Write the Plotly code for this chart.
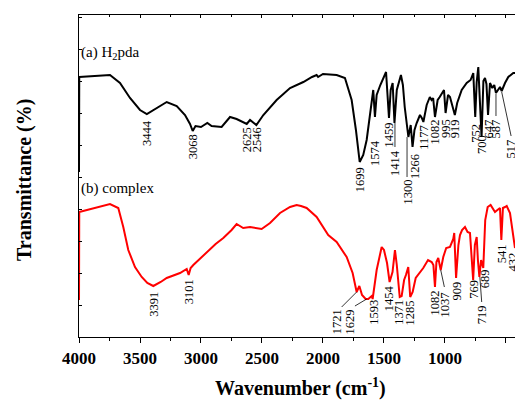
import plotly.graph_objects as go

# ---- data: (a) H2pda spectrum, wavenumber (cm-1) and transmittance (arb. units)
wn_a = [4000, 3998, 3746, 3664, 3582, 3500, 3444, 3363, 3281, 3199, 3131, 3090, 3068, 3045, 3000,
        2948, 2913, 2831, 2762, 2708, 2660, 2625, 2598, 2546, 2489, 2380, 2270, 2161, 2090, 2052,
        2040, 2000, 1888, 1820, 1765, 1730, 1699, 1670, 1642, 1600, 1588, 1574, 1560, 1530, 1483,
        1459, 1445, 1429, 1414, 1395, 1361, 1345, 1330, 1300, 1290, 1281, 1266, 1250, 1232, 1205,
        1190, 1177, 1150, 1124, 1110, 1097, 1082, 1060, 1043, 1008, 995, 975, 959, 919, 900,
        863, 822, 790, 768, 752, 740, 727, 700, 685, 672, 660, 647, 631, 612, 596,
        582, 565, 549, 535, 508, 481, 440, 426]
t_a = [165, 260, 262, 254, 239, 227, 223, 229, 235, 231, 222, 213, 206, 211, 210,
       214, 211, 210, 220, 218, 215, 213, 217, 212, 222, 237, 249, 255, 260, 262,
       260, 263, 262, 259, 237, 207, 175, 182, 197, 237, 247, 220, 242, 252, 265,
       219, 247, 254, 214, 247, 262, 252, 230, 200, 209, 212, 190, 207, 214, 222,
       219, 215, 232, 240, 237, 239, 220, 237, 240, 247, 224, 242, 240, 222, 234,
       247, 254, 257, 264, 220, 255, 270, 200, 256, 259, 253, 222, 254, 249, 252,
       244, 247, 250, 246, 254, 260, 264, 264]

# ---- data: (b) complex spectrum
wn_b = [4000, 3998, 3746, 3678, 3637, 3596, 3541, 3486, 3440, 3391, 3330, 3281, 3172, 3117, 3101,
        3085, 3063, 2954, 2880, 2817, 2749, 2708, 2680, 2654, 2598, 2550, 2503, 2434, 2352, 2270,
        2216, 2180, 2134, 2052, 1957, 1888, 1806, 1757, 1724, 1702, 1680, 1650, 1629, 1610, 1600,
        1593, 1560, 1519, 1500, 1475, 1454, 1430, 1410, 1395, 1371, 1355, 1335, 1320, 1301, 1285,
        1265, 1240, 1220, 1178, 1139, 1109, 1095, 1082, 1070, 1055, 1035, 1014, 990, 959, 932,
        924, 909, 890, 877, 860, 836, 815, 795, 769, 755, 740, 730, 718, 704, 686,
        670, 650, 626, 610, 590, 570, 549, 538, 525, 508, 494, 467, 440, 426]
t_b = [37, 125, 133, 129, 110, 87, 70, 60, 54, 51, 55, 59, 64, 68, 62,
       69, 72, 85, 93, 99, 107, 113, 111, 109, 110, 109, 108, 114, 124, 130,
       132, 131, 129, 120, 102, 95, 80, 64, 45, 51, 42, 38, 38, 40, 41,
       38, 67, 90, 87, 74, 55, 65, 87, 72, 40, 41, 57, 62, 70, 40,
       45, 59, 62, 69, 77, 75, 72, 50, 75, 79, 67, 80, 89, 90, 98,
       104, 59, 92, 102, 107, 110, 105, 104, 57, 92, 100, 77, 60, 77, 69,
       117, 130, 132, 129, 125, 127, 129, 97, 129, 130, 131, 124, 100, 89]

# ---- peak labels
labels_a = ["3444", "3068", "2625", "2546", "1699", "1574", "1459", "1414", "1300", "1266",
            "1177", "1082", "995", "919", "752", "700", "647", "587", "517"]
labels_b = ["3391", "3101", "1721", "1629", "1593", "1454", "1371", "1285", "1082", "1037",
            "909", "769", "719", "689", "541", "432"]

# label layout (x position in cm-1, top of text in y units) - kept separate from data
pos_a = [(3443, 219), (3068, 205), (2625, 212), (2543, 212), (1699, 172), (1574, 199),
         (1459, 217), (1410, 189), (1311, 159), (1250, 185), (1178, 214), (1082, 220),
         (995, 220), (919, 220), (752, 215), (700, 204), (647, 219), (582, 220), (467, 199)]
pos_b = [(3391, 47), (3101, 60), (1888, 30), (1779, 30), (1588, 39), (1456, 54), (1383, 39),
         (1287, 39), (1082, 49), (1000, 47), (909, 57), (768, 59), (699, 34), (674, 70),
         (535, 95), (443, 87)]
leaders = [((1410, 214), (1410, 190)), ((1311, 200), (1311, 160)), ((582, 243), (582, 221)),
           ((535, 245), (458, 201)),
           ((1724, 45), (1847, 30)), ((1642, 38), (1738, 31)), ((1035, 67), (1005, 50)),
           ((714, 60), (699, 35))]

FONT = "Liberation Serif"

fig = go.Figure()
fig.add_trace(go.Scatter(x=wn_a, y=t_a, mode="lines", line=dict(color="black", width=2),
                         showlegend=False, hoverinfo="skip"))
fig.add_trace(go.Scatter(x=wn_b, y=t_b, mode="lines", line=dict(color="#ff0000", width=2),
                         showlegend=False, hoverinfo="skip"))
fig.add_trace(go.Scatter(x=[2000], y=[100], xaxis="x2", mode="markers",
                         marker=dict(opacity=0), showlegend=False, hoverinfo="skip"))

anns = []
for txt, (x, y) in zip(labels_a + labels_b, pos_a + pos_b):
    anns.append(dict(x=x, y=y, xref="x", yref="y", text=txt, showarrow=False, textangle=-90,
                     xanchor="center", yanchor="top", font=dict(family=FONT, size=12.5, color="black")))

anns.append(dict(x=0, y=337 - 53, xref="paper", yref="y", text="(a) H<sub>2</sub>pda", showarrow=False,
                 xanchor="left", yanchor="middle", font=dict(family=FONT, size=15, color="black")))
anns.append(dict(x=0, y=337 - 188, xref="paper", yref="y", text="(b) complex", showarrow=False,
                 xanchor="left", yanchor="middle", font=dict(family=FONT, size=15, color="black")))
anns.append(dict(x=(300 - 79) / 436, y=1 - (388 - 15) / 322, xref="paper", yref="paper",
                 text="<b>Wavenumber (cm<sup>-1</sup>)</b>", showarrow=False,
                 xanchor="center", yanchor="middle", font=dict(family=FONT, size=20, color="black")))
anns.append(dict(x=(24 - 79) / 436, y=1 - (180 - 15) / 322, xref="paper", yref="paper",
                 text="<b>Transmittance (%)</b>", showarrow=False, textangle=-90,
                 xanchor="center", yanchor="middle", font=dict(family=FONT, size=20, color="black")))

shapes = []
for (x0, y0), (x1, y1) in leaders:
    shapes.append(dict(type="line", x0=x0, y0=y0, x1=x1, y1=y1, xref="x", yref="y",
                       line=dict(color="black", width=0.8)))

fig.update_layout(
    width=515, height=400,
    margin=dict(l=79, r=0, t=15, b=63),
    paper_bgcolor="white", plot_bgcolor="white",
    annotations=anns, shapes=shapes,
    xaxis=dict(range=[4000, 426], tickvals=[4000, 3500, 3000, 2500, 2000, 1500, 1000, 500],
               ticktext=["<b>4000</b>", "<b>3500</b>", "<b>3000</b>", "<b>2500</b>", "<b>2000</b>",
                         "<b>1500</b>", "<b>1000</b>", "<b>500</b>"],
               ticks="outside", ticklen=5, tickwidth=1.2, tickcolor="black",
               minor=dict(tickvals=[3750, 3250, 2750, 2250, 1750, 1250, 750], ticks="outside",
                          ticklen=3, tickcolor="black"),
               showline=True, linecolor="black", linewidth=1.3, showgrid=False, zeroline=False,
               tickfont=dict(family=FONT, size=17, color="black")),
    xaxis2=dict(range=[4000, 426], overlaying="x", side="top", showline=True, linecolor="black",
                linewidth=1.3, ticks="inside", ticklen=3, tickcolor="black",
                tickvals=[4000, 3500, 3000, 2500, 2000, 1500, 1000, 500],
                minor=dict(tickvals=[3750, 3250, 2750, 2250, 1750, 1250, 750], ticks="inside",
                           ticklen=2, tickcolor="black"),
                showticklabels=False, showgrid=False, zeroline=False),
    yaxis=dict(range=[0, 322], showline=True, linecolor="black", linewidth=1.3, ticks="inside",
               ticklen=3, tickcolor="black", dtick=32, showticklabels=False, showgrid=False,
               zeroline=False),
)

fig.write_html("out.html")
